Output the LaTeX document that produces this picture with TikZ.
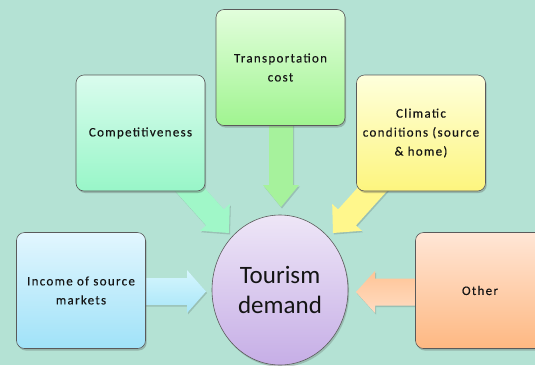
\documentclass[tikz,border=0pt]{standalone}
\usepackage{fontspec}
\setmainfont{Carlito}
\newfontfamily\boxfont[LetterSpace=10,FakeBold=0.2]{Carlito}
\newfontfamily\centerfont{Carlito}
\usetikzlibrary{shapes.geometric,shadows}
\definecolor{bgc}{HTML}{B4E2D4}
\definecolor{edgec}{HTML}{5A5A5A}
\definecolor{txt}{HTML}{141414}
\definecolor{trT}{HTML}{E2FEDC}\definecolor{trB}{HTML}{A0F490}
\definecolor{coT}{HTML}{DAFCEE}\definecolor{coB}{HTML}{98F6C8}
\definecolor{clT}{HTML}{FEFFDC}\definecolor{clB}{HTML}{FDF57E}
\definecolor{inT}{HTML}{E2F6FE}\definecolor{inB}{HTML}{A0E2F8}
\definecolor{otT}{HTML}{FFE6D6}\definecolor{otB}{HTML}{FEB882}
\definecolor{elT}{HTML}{EEE6F7}\definecolor{elB}{HTML}{C6AEE6}
\definecolor{arTr}{HTML}{A6F29C}
\definecolor{arCo}{HTML}{A0F7C8}
\definecolor{arCl}{HTML}{FFF78C}
\definecolor{arInT}{HTML}{D6F6FE}\definecolor{arInB}{HTML}{A8E6F8}
\definecolor{arOtT}{HTML}{FFDCC2}\definecolor{arOtB}{HTML}{FFC496}
\pgfdeclarelayer{backlayer}
\pgfdeclarelayer{arrowlayer}
\pgfsetlayers{backlayer,arrowlayer,main}
% tip x, tip y, angle, total length, head length, head half-width, shaft half-width, fill options
\newcommand\fatarrow[8]{%
  \path[#8, shift={(#1,#2)}, rotate=#3]
    (-#4,#7) -- (-#5,#7) -- (-#5,#6) -- (0,0) -- (-#5,-#6) -- (-#5,-#7) -- (-#4,-#7) -- cycle;}
\tikzset{
  boxnode/.style={draw=edgec, line width=0.6pt, rounded corners=8pt,
    minimum width=129pt, minimum height=116pt, inner sep=0pt, align=center,
    text=txt, font=\boxfont\fontsize{13}{19}\selectfont,
    drop shadow={shadow xshift=1.2pt, shadow yshift=-2pt, opacity=0.3, fill=black!70}},
  arrshadow/.style={drop shadow={shadow xshift=1pt, shadow yshift=-1.5pt, opacity=0.15, fill=black}}
}
\begin{document}
\begin{tikzpicture}[x=1pt,y=-1pt]
\begin{pgfonlayer}{backlayer}
\fill[bgc] (0,0) rectangle (535,365);
\end{pgfonlayer}
\useasboundingbox (0,0) rectangle (535,365);
\clip (0,0) rectangle (535,365);

\node[boxnode, top color=trT, bottom color=trB] (transport) at (280.5,67.5) {Transportation\\cost};
\node[boxnode, top color=coT, bottom color=coB] (compet) at (140.5,133) {Competitiveness};
\node[boxnode, top color=clT, bottom color=clB] (climatic) at (421,133) {Climatic\\conditions (source\\\&~home)};
\node[boxnode, top color=inT, bottom color=inB] (income) at (81,290.5) {Income of source\\markets};
\node[boxnode, top color=otT, bottom color=otB] (other) at (480,290.5) {Other};

\node[ellipse, draw=edgec, line width=0.6pt, minimum width=136pt, minimum height=150pt,
  inner sep=0pt, top color=elT, bottom color=elB, align=center, text=txt,
  font=\centerfont\fontsize{25}{30}\selectfont,
  drop shadow={shadow xshift=1.2pt, shadow yshift=-2pt, opacity=0.25, fill=black!70}]
  (demand) at (280,290) {Tourism\\demand};

\coordinate (tipTr) at (281,207);
\coordinate (tipCo) at (229,233);
\coordinate (tipCl) at (333,233);
\coordinate (tipIn) at (206,291.5);
\coordinate (tipOt) at (356,292);

\begin{pgfonlayer}{arrowlayer}
\fatarrow{281}{207}{-90}{95}{22}{18}{12}{fill=arTr, arrshadow}
\fatarrow{229}{233}{-48}{75}{21}{20}{12}{fill=arCo, arrshadow}
\fatarrow{333}{233}{-132}{75}{21}{20}{12}{fill=arCl, arrshadow}
\fatarrow{206}{291.5}{0}{75}{19}{21.5}{13.5}{top color=arInT, bottom color=arInB, arrshadow}
\fatarrow{356}{292}{180}{75}{19}{21}{13.5}{top color=arOtB, bottom color=arOtT, arrshadow}
\end{pgfonlayer}
\end{tikzpicture}
\end{document}
